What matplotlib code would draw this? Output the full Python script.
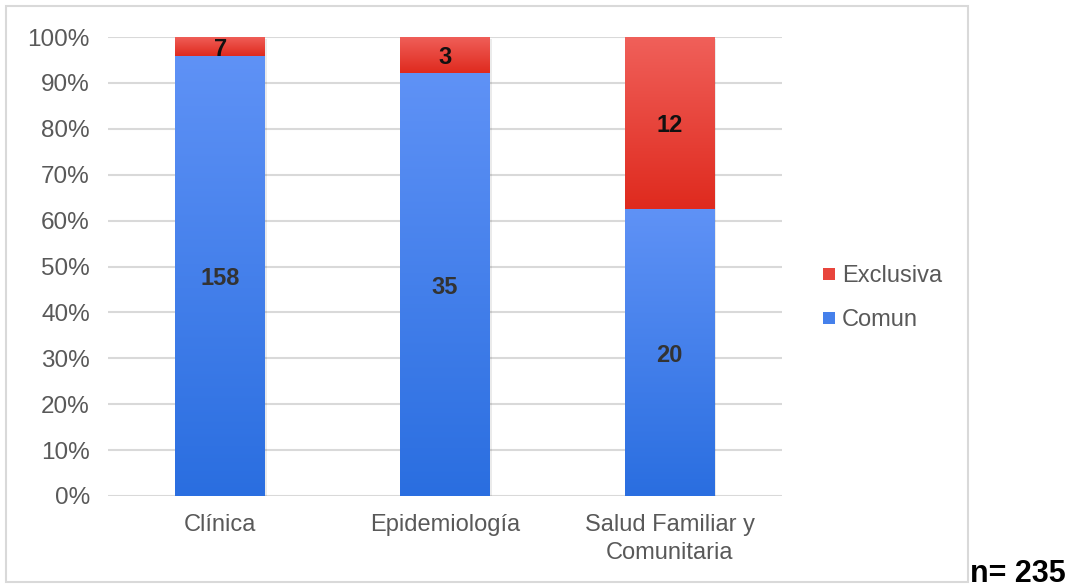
import matplotlib
matplotlib.use("Agg")
import matplotlib.pyplot as plt
import numpy as np
from matplotlib.colors import LinearSegmentedColormap
from matplotlib.patches import Rectangle

plt.rcParams["font.family"] = ["Liberation Sans", "DejaVu Sans"]

# ===== DATA =====
categories = ["Clínica", "Epidemiología", "Salud Familiar y\nComunitaria"]
comun = [158, 35, 20]
exclusiva = [7, 3, 12]
y_ticks = [0, 10, 20, 30, 40, 50, 60, 70, 80, 90, 100]
n_total = 235

# ===== STYLE =====
blue_top, blue_bot = "#5f92f6", "#2a6ee0"
red_top, red_bot = "#f0605a", "#df2a1e"
text_grey = "#595959"
grid_grey = "#d9d9d9"

cmap_blue = LinearSegmentedColormap.from_list("blue", [blue_bot, blue_top])
cmap_red = LinearSegmentedColormap.from_list("red", [red_bot, red_top])

fig = plt.figure(figsize=(10.76, 5.87), dpi=100)
ax = fig.add_axes([108 / 1076, 1 - 496 / 587, 674 / 1076, 459 / 587])

# outer chart border
fig.patches.append(Rectangle((6 / 1076, 5 / 587), 962 / 1076, 576 / 587,
                             transform=fig.transFigure, fill=False,
                             edgecolor="#d9d9d9", lw=1.5))

comun = np.array(comun, dtype=float)
exclusiva = np.array(exclusiva, dtype=float)
totals = comun + exclusiva
pct_comun = comun / totals * 100
pct_excl = exclusiva / totals * 100

x = np.arange(len(categories))
width = 0.4
grad = np.linspace(0, 1, 256).reshape(-1, 1)


def gradient_bar(xc, bottom, height, cmap):
    rect = Rectangle((xc - width / 2, bottom), width, height,
                     facecolor="none", edgecolor="none")
    ax.add_patch(rect)
    # soft shadow
    sh = Rectangle((xc - width / 2 + 0.008, bottom - 0.4), width, height,
                   facecolor="#000000", alpha=0.08, edgecolor="none", zorder=1.5)
    ax.add_patch(sh)
    im = ax.imshow(grad, extent=[xc - width / 2, xc + width / 2, bottom, bottom + height],
                   origin="lower", aspect="auto", cmap=cmap, zorder=2)
    im.set_clip_path(rect)


for i in range(len(categories)):
    gradient_bar(x[i], 0, pct_comun[i], cmap_blue)
    gradient_bar(x[i], pct_comun[i], pct_excl[i], cmap_red)
    ax.text(x[i], pct_comun[i] / 2, f"{int(comun[i])}", ha="center",
            va="center_baseline", fontsize=17, fontweight="bold",
            color="#333333", zorder=3)
    ax.text(x[i], pct_comun[i] + pct_excl[i] / 2, f"{int(exclusiva[i])}",
            ha="center", va="center_baseline", fontsize=17, fontweight="bold",
            color="#111111", zorder=3)

ax.set_xlim(-0.5, 2.5)
ax.set_ylim(0, 100)
ax.set_yticks(y_ticks)
ax.set_yticklabels([f"{t}%" for t in y_ticks])
ax.set_xticks(x)
ax.set_xticklabels(categories, linespacing=1.35)
ax.tick_params(axis="both", length=0, labelsize=17.5, colors=text_grey)
ax.tick_params(axis="x", labelsize=17)
ax.tick_params(axis="y", pad=13)
ax.tick_params(axis="x", pad=13)
ax.yaxis.grid(True, color=grid_grey, lw=1.5)
ax.set_axisbelow(True)
for s in ax.spines.values():
    s.set_visible(False)

# legend
legend_items = [("Exclusiva", cmap_red), ("Comun", cmap_blue)]
for j, (label, cm) in enumerate(legend_items):
    yc = 1 - (274 + 44 * j) / 587
    fig.patches.append(Rectangle((823 / 1076, yc - 6 / 587), 12 / 1076, 12 / 587,
                                 transform=fig.transFigure,
                                 facecolor=cm(0.5), edgecolor="none"))
    fig.text(842 / 1076, yc, label, ha="left", va="center_baseline",
             fontsize=17, color=text_grey)

fig.text(970 / 1076, 1 - 570 / 587, f"n= {n_total}", ha="left", va="center_baseline",
         fontsize=22, fontweight="bold", color="black")

fig.savefig("out.png", dpi=100)
